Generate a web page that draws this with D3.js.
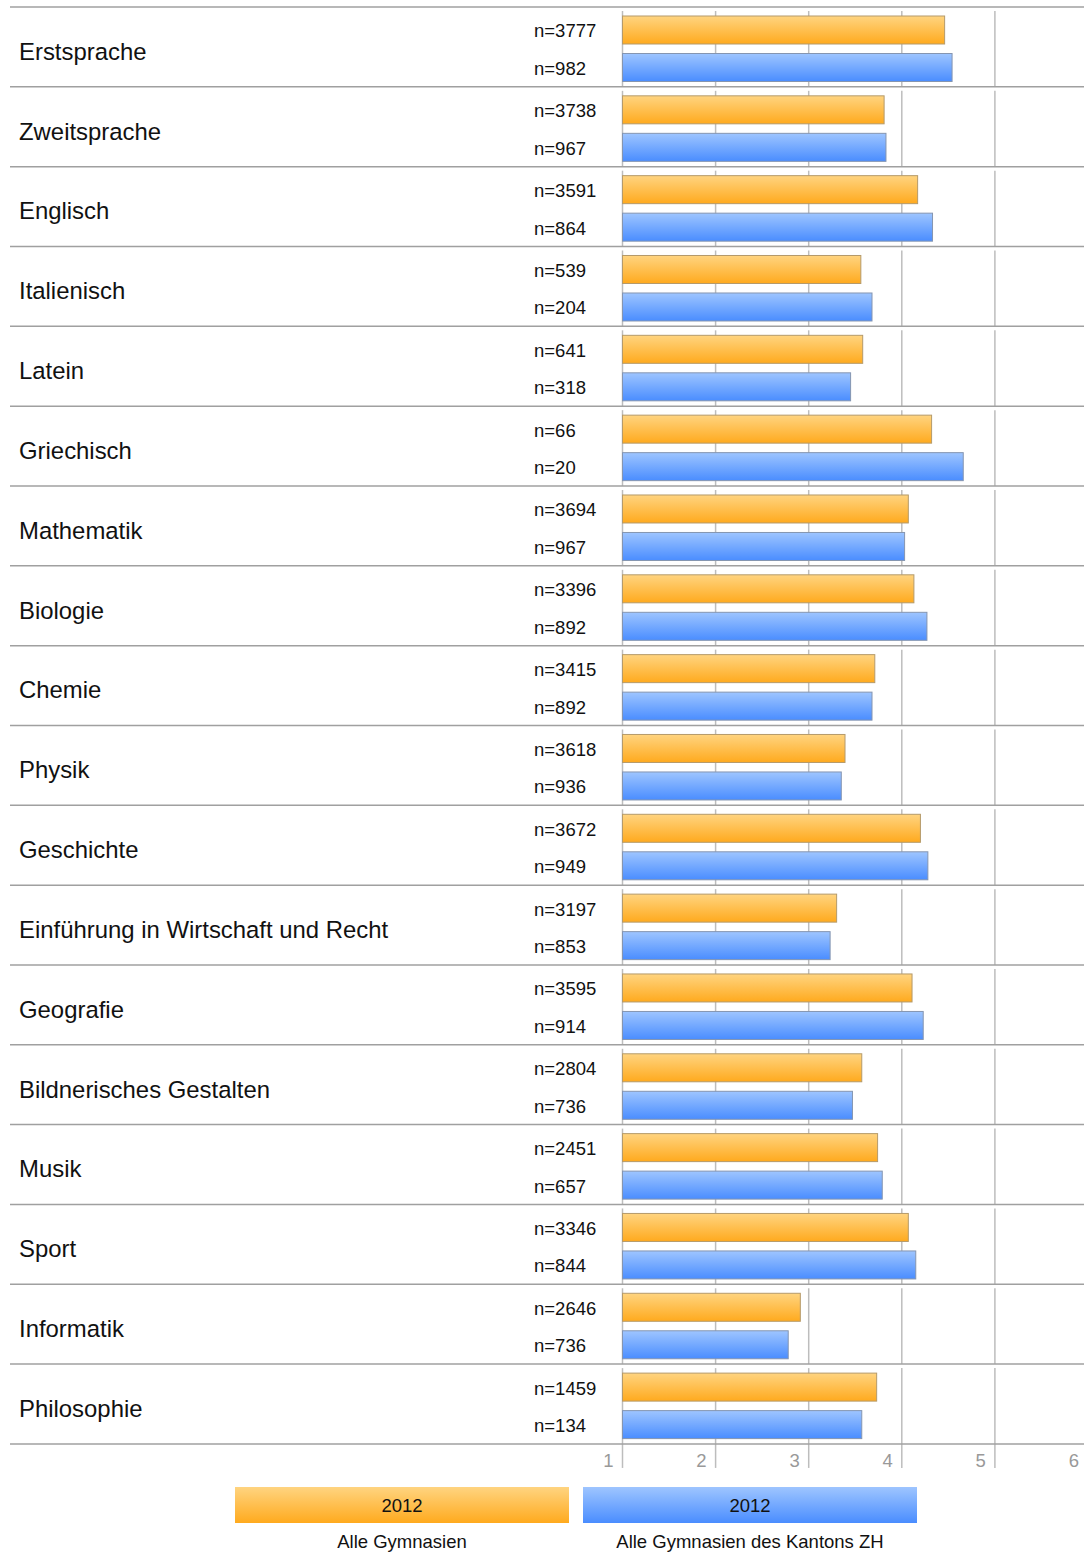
<!DOCTYPE html>
<html>
<head>
<meta charset="utf-8">
<script src="https://cdn.jsdelivr.net/npm/d3@7"></script>
<style>
  body { margin: 0; background: #fff; }
  svg { display: block; font-family: Arial, "Liberation Sans", sans-serif; }
</style>
</head>
<body>
<svg id="chart"></svg>
<script>
// Subjects (one row each)
const subjects = [
  "Erstsprache", "Zweitsprache", "Englisch", "Italienisch", "Latein", "Griechisch",
  "Mathematik", "Biologie", "Chemie", "Physik", "Geschichte",
  "Einführung in Wirtschaft und Recht", "Geografie", "Bildnerisches Gestalten",
  "Musik", "Sport", "Informatik", "Philosophie"
];

// Series: mean values
const alleValues = [4.46, 3.81, 4.17, 3.56, 3.58, 4.32, 4.07, 4.13, 3.71, 3.39, 4.20, 3.30, 4.11, 3.57, 3.74, 4.07, 2.91, 3.73];
const zhValues   = [4.54, 3.83, 4.33, 3.68, 3.45, 4.66, 4.03, 4.27, 3.68, 3.35, 4.28, 3.23, 4.23, 3.47, 3.79, 4.15, 2.78, 3.57];

// Sample sizes
const alleN = [3777, 3738, 3591, 539, 641, 66, 3694, 3396, 3415, 3618, 3672, 3197, 3595, 2804, 2451, 3346, 2646, 1459];
const zhN   = [982, 967, 864, 204, 318, 20, 967, 892, 892, 936, 949, 853, 914, 736, 657, 844, 736, 134];

const ticks = [1, 2, 3, 4, 5, 6];
const seriesYear = ["2012", "2012"];
const seriesNames = ["Alle Gymnasien", "Alle Gymnasien des Kantons ZH"];

const width = 1084, height = 1553;
const plotTop = 7, rowH = 79.83;
const plotBottom = plotTop + rowH * subjects.length;

const svg = d3.select("#chart").attr("width", width).attr("height", height);

const defs = svg.append("defs");
function grad(id, c1, c2) {
  const g = defs.append("linearGradient").attr("id", id)
    .attr("x1", 0).attr("y1", 0).attr("x2", 0).attr("y2", 1);
  g.append("stop").attr("offset", "0%").attr("stop-color", c1);
  g.append("stop").attr("offset", "100%").attr("stop-color", c2);
}
grad("gOrange", "#ffd480", "#ffaa1e");
grad("gBlue", "#9ec5ff", "#4a8dff");

const x = d3.scaleLinear().domain([1, 6]).range([622.5, 1088]);
const y = d3.scaleBand().domain(subjects).range([plotTop, plotBottom]);

// vertical grid lines per row
subjects.forEach(s => {
  const y0 = y(s);
  svg.append("g").selectAll("line").data(ticks).join("line")
    .attr("x1", d => x(d)).attr("x2", d => x(d))
    .attr("y1", y0 + 4).attr("y2", y0 + rowH)
    .attr("stroke", "#bdbdbd").attr("stroke-width", 1.5);
});

// axis below the plot
svg.append("g").selectAll("line").data(ticks).join("line")
  .attr("x1", d => x(d)).attr("x2", d => x(d))
  .attr("y1", plotBottom).attr("y2", plotBottom + 24)
  .attr("stroke", "#bdbdbd").attr("stroke-width", 1.5);
svg.append("g").selectAll("text").data(ticks).join("text")
  .attr("x", d => x(d) - 9).attr("y", plotBottom + 23)
  .attr("text-anchor", "end").attr("font-size", 18.5).attr("fill", "#999")
  .text(d => d);

// separators
svg.append("g").selectAll("line").data(d3.range(subjects.length + 1)).join("line")
  .attr("x1", 10).attr("x2", width)
  .attr("y1", i => plotTop + i * rowH).attr("y2", i => plotTop + i * rowH)
  .attr("stroke", "#a0a0a0").attr("stroke-width", 1.5);

const barH = 28;
const rows = svg.append("g").selectAll("g").data(subjects).join("g")
  .attr("transform", s => `translate(0,${y(s)})`);

rows.append("text")
  .attr("x", 19).attr("y", rowH / 2 + 6.5)
  .attr("dominant-baseline", "middle")
  .attr("font-size", 23.9).attr("fill", "#111")
  .text(s => s);

rows.append("rect")
  .attr("x", x(1)).attr("y", 9)
  .attr("width", (s, i) => x(alleValues[i]) - x(1)).attr("height", barH)
  .attr("fill", "url(#gOrange)").attr("stroke", "#b59a6a").attr("stroke-width", 1);
rows.append("rect")
  .attr("x", x(1)).attr("y", 46.5)
  .attr("width", (s, i) => x(zhValues[i]) - x(1)).attr("height", barH)
  .attr("fill", "url(#gBlue)").attr("stroke", "#8595b0").attr("stroke-width", 1);

rows.append("text")
  .attr("x", 534).attr("y", 9 + barH / 2 + 2.5)
  .attr("dominant-baseline", "middle").attr("font-size", 18.5).attr("fill", "#111")
  .text((s, i) => "n=" + alleN[i]);
rows.append("text")
  .attr("x", 534).attr("y", 46.5 + barH / 2 + 2.5)
  .attr("dominant-baseline", "middle").attr("font-size", 18.5).attr("fill", "#111")
  .text((s, i) => "n=" + zhN[i]);

// legend
const legend = [
  { x: 235, w: 334, fill: "url(#gOrange)" },
  { x: 583, w: 334, fill: "url(#gBlue)" }
];
legend.forEach((l, i) => {
  svg.append("rect").attr("x", l.x).attr("y", 1487).attr("width", l.w).attr("height", 36)
    .attr("fill", l.fill);
  svg.append("text").attr("x", l.x + l.w / 2).attr("y", 1507)
    .attr("text-anchor", "middle").attr("dominant-baseline", "middle")
    .attr("font-size", 18.5).attr("fill", "#111").text(seriesYear[i]);
  svg.append("text").attr("x", l.x + l.w / 2).attr("y", 1543)
    .attr("text-anchor", "middle").attr("dominant-baseline", "middle")
    .attr("font-size", 18.5).attr("fill", "#111").text(seriesNames[i]);
});
</script>
</body>
</html>
